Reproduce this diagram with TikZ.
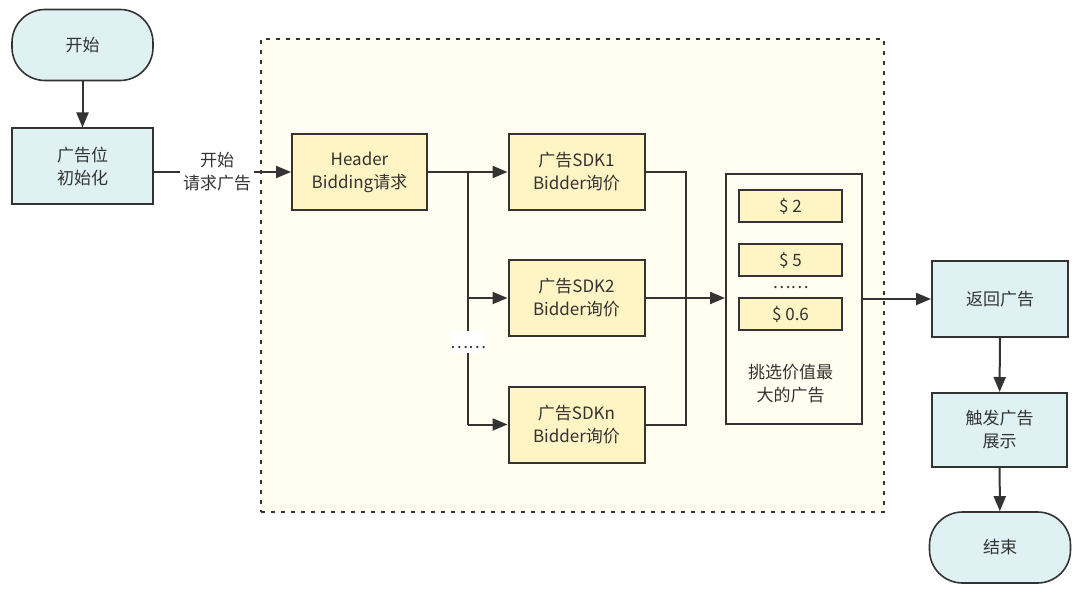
\documentclass[tikz,border=0pt]{standalone}
\usepackage{fontspec}
\setmainfont{Noto Sans CJK SC}
\usetikzlibrary{arrows.meta}
\definecolor{cy}{HTML}{DFF1F3}
\definecolor{yl}{HTML}{FFF4C3}
\definecolor{bgy}{HTML}{FFFEF0}
\definecolor{dk}{HTML}{333333}
\begin{document}
\begin{tikzpicture}[x=1pt,y=-1pt,
  every node/.style={font=\fontsize{17}{23}\selectfont, text=dk, align=center, inner sep=0pt},
  cbox/.style={draw=dk, line width=2pt, fill=cy, minimum width=135pt, minimum height=76pt},
  ybox/.style={draw=dk, line width=2pt, fill=yl, minimum width=136pt, minimum height=76pt},
  term/.style={draw=dk, line width=1.6pt, fill=cy, rounded corners=33pt, minimum width=141pt, minimum height=71pt},
  price/.style={draw=dk, line width=2pt, fill=yl, minimum width=103pt, minimum height=32pt},
  arr/.style={draw=dk, line width=2pt, -{Triangle[length=15pt,width=12pt]}},
  conn/.style={draw=dk, line width=2pt},
  lbl/.style={fill=white, inner sep=3pt}]
\useasboundingbox (0,0) rectangle (1080,596);
\fill[white] (0,0) rectangle (1080,596);
% container
\node[draw=dk, fill=bgy, line width=2pt, dash pattern=on 4pt off 6pt, minimum width=623pt, minimum height=473pt] (cont) at (572.5,275.5) {};
% nodes
\node[term] (start) at (82.5,45) {开始};
\node[cbox, minimum width=141pt] (init) at (82.5,166.5) {广告位\\初始化};
\node[ybox, minimum width=135pt] (hdr) at (359.5,172) {Header\\Bidding请求};
\node[ybox] (sdk1) at (576.5,172) {广告SDK1\\Bidder询价};
\node[ybox] (sdk2) at (576.5,298) {广告SDK2\\Bidder询价};
\node[ybox] (sdkn) at (576.5,424.5) {广告SDKn\\Bidder询价};
\node[draw=dk, line width=2pt, fill=bgy, minimum width=136pt, minimum height=250pt] (pick) at (794,299) {};
\node[price] (p1) at (790.5,206) {\$ 2};
\node[price] (p2) at (790.5,260.5) {\$ 5};
\node[price] (p3) at (790.5,314.5) {\$ 0.6};
\node (pdots) at (790.5,288) {……};
\node (picktxt) at (790.5,384) {挑选价值最\\大的广告};
\node[cbox, minimum width=136pt] (ret) at (1000,299) {返回广告};
\node[cbox, minimum width=135pt, minimum height=74pt] (show) at (999.5,430) {触发广告\\展示};
\node[term] (end) at (1000,547.5) {结束};
% connectors
\draw[arr] (start) -- (init);
\draw[arr] (init.east |- hdr.west) -- node[lbl, pos=0.46]{开始\\请求广告} (hdr.west);
\coordinate (bx) at (468,172);
\coordinate (jx) at (686,298);
\draw[arr] (hdr.east) -- (sdk1.west);
\draw[conn] (bx) -- (bx |- sdkn.west);
\draw[arr] (bx |- sdk2.west) -- (sdk2.west);
\draw[arr] (bx |- sdkn.west) -- (sdkn.west);
\node[fill=white, minimum width=36pt, minimum height=22pt] (bdotsbg) at (468,342) {};
\node (bdots) at (468,347.5) {……};
\draw[conn] (sdk1.east) -| (jx);
\draw[conn] (sdkn.east) -| (jx);
\draw[arr] (sdk2.east) -- (pick.west |- sdk2.east);
\draw[arr] (pick.east) -- (ret.west);
\draw[arr] (ret) -- (show);
\draw[arr] (show) -- (end);
\end{tikzpicture}
\end{document}
